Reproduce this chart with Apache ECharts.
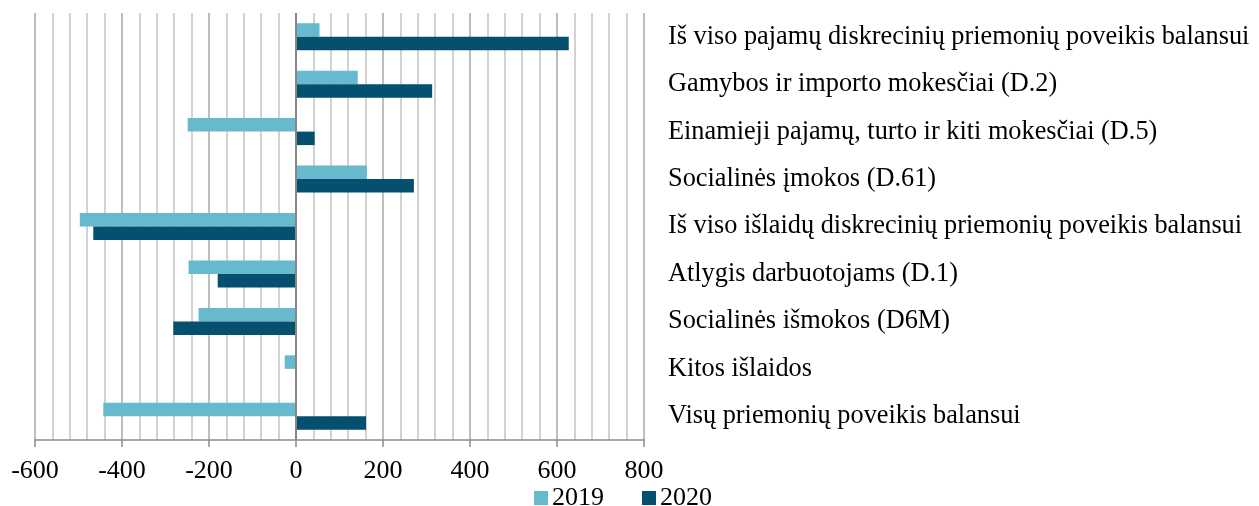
<!DOCTYPE html>
<html>
<head>
<meta charset="utf-8">
<script src="https://cdn.jsdelivr.net/npm/echarts@6/dist/echarts.min.js"></script>
<style>
  html, body { margin: 0; padding: 0; background: #fff; }
  #chart { width: 1259px; height: 506px; }
</style>
</head>
<body>
<div id="chart"></div>
<script>
// kategorijos (iš viršaus į apačią)
const categories = [
  'Iš viso pajamų diskrecinių priemonių poveikis balansui',
  'Gamybos ir importo mokesčiai (D.2)',
  'Einamieji pajamų, turto ir kiti mokesčiai (D.5)',
  'Socialinės įmokos (D.61)',
  'Iš viso išlaidų diskrecinių priemonių poveikis balansui',
  'Atlygis darbuotojams (D.1)',
  'Socialinės išmokos (D6M)',
  'Kitos išlaidos',
  'Visų priemonių poveikis balansui'
];
const values2019 = [54, 142, -249, 163, -497, -247, -224, -26, -443];
const values2020 = [627, 313, 43, 271, -466, -180, -282, -2, 161];
const seriesNames = ['2019', '2020'];

const font = 'Liberation Serif';
let myChart = echarts.init(document.getElementById('chart'));

myChart.setOption({
  animation: false,
  grid: {
    left: 35,
    right: 615,
    top: 13,
    bottom: 66
  },
  legend: {
    data: seriesNames,
    left: 529,
    top: 480,
    itemWidth: 14,
    itemHeight: 14,
    itemGap: 38,
    icon: 'rect',
    textStyle: { fontFamily: font, fontSize: 26, color: '#000', padding: [0, 0, 0, -1] }
  },
  xAxis: {
    type: 'value',
    min: -600,
    max: 800,
    interval: 200,
    axisLine: { show: true, lineStyle: { color: '#8c8c8c', width: 1.5 } },
    axisTick: { show: true, length: 7, lineStyle: { color: '#8c8c8c', width: 1.5 } },
    axisLabel: { fontFamily: font, fontSize: 26, color: '#000', margin: 18 },
    splitLine: { show: true, lineStyle: { color: '#a8a8a8', width: 1.5 } },
    minorTick: { show: false, splitNumber: 5 },
    minorSplitLine: { show: true, lineStyle: { color: '#c4c4c4', width: 1.5 } }
  },
  yAxis: {
    type: 'category',
    data: categories,
    inverse: true,
    position: 'right',
    axisLine: { show: false },
    axisTick: { show: false },
    axisLabel: {
      align: 'left',
      margin: 24,
      fontFamily: font,
      fontSize: 26.3,
      color: '#000'
    },
    splitLine: { show: false }
  },
  series: [
    {
      name: seriesNames[0],
      type: 'bar',
      data: values2019,
      barWidth: 13.5,
      barGap: '0%',
      itemStyle: { color: '#67bacd' },
      markLine: {
        silent: true,
        symbol: 'none',
        label: { show: false },
        lineStyle: { color: '#868686', type: 'solid', width: 2 },
        data: [{ xAxis: 0 }]
      }
    },
    {
      name: seriesNames[1],
      type: 'bar',
      data: values2020,
      barWidth: 13.5,
      barGap: '0%',
      itemStyle: { color: '#05506e' }
    }
  ]
});
</script>
</body>
</html>
